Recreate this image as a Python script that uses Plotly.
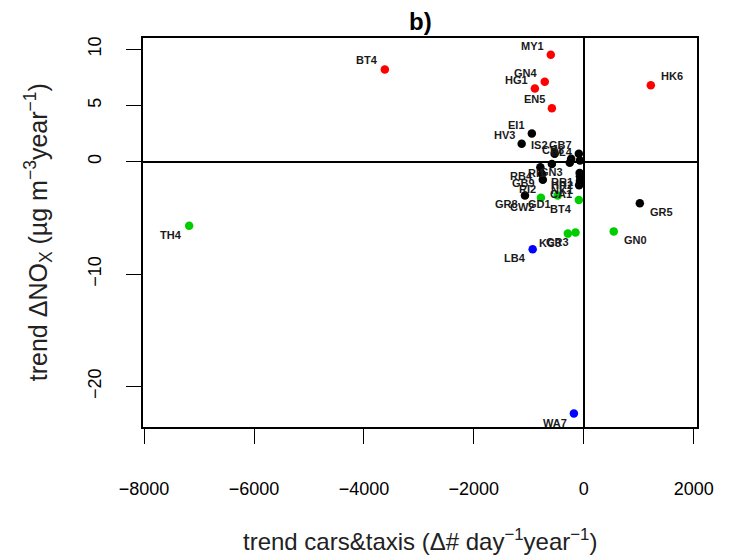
import plotly.graph_objects as go

# ---- data ----
red_names = ["MY1", "BT4", "GN4", "HG1", "EN5", "HK6"]
red_x = [-600, -3620, -710, -890, -580, 1220]
red_y = [9.5, 8.2, 7.1, 6.5, 4.75, 6.8]

black_names = ["EI1", "HV3", "IS2", "GB7", "CB8", "BL4", "RI1", "GN3", "RB4",
               "GB9", "RI2", "RR1", "HR2", "NK1", "CA1", "GR8", "GR5"]
black_x = [-945, -1130, -530, -90, -230, -70, -580, -255, -790,
           -760, -745, -75, -70, -70, -85, -1070, 1020]
black_y = [2.5, 1.6, 0.7, 0.7, 0.25, 0.1, -0.2, -0.1, -0.5,
           -1.1, -1.6, -1.0, -1.3, -1.7, -2.1, -3.0, -3.7]

green_names = ["TH4", "GN0", "KC3", "GR3", "CW2", "GD1", "BT4"]
green_x = [-7180, 545, -290, -150, -780, -475, -90]
green_y = [-5.7, -6.2, -6.4, -6.3, -3.2, -3.0, -3.4]

blue_names = ["LB4", "WA7"]
blue_x = [-930, -180]
blue_y = [-7.8, -22.4]

x_ticks = [-8000, -6000, -4000, -2000, 0, 2000]
y_ticks = [-20, -10, 0, 5, 10]

groups = [
    (red_names, red_x, red_y, "#ff0000"),
    (black_names, black_x, black_y, "#000000"),
    (green_names, green_x, green_y, "#00cd00"),
    (blue_names, blue_x, blue_y, "#0000ff"),
]

fig = go.Figure()
annotations = []
for names, xs, ys, col in groups:
    fig.add_trace(go.Scatter(
        x=xs, y=ys, mode="markers",
        marker=dict(color=col, size=8.5, line=dict(width=0)),
        showlegend=False, hoverinfo="text", text=names,
    ))
    for n, xv, yv in zip(names, xs, ys):
        right = xv > 0
        annotations.append(dict(
            x=xv, y=yv, xref="x", yref="y", text="<b>" + n + "</b>",
            showarrow=False,
            xanchor="left" if right else "right",
            yanchor="middle",
            xshift=8 if right else -5,
            yshift=9 if yv > 0 else -9,
            font=dict(family="Liberation Sans, Arial", size=11, color="#1a1a1a"),
        ))

# title and axis titles
annotations.append(dict(
    x=0.5, y=1.0, xref="paper", yref="paper", yanchor="bottom", yshift=1,
    text="<b>b)</b>", showarrow=False,
    font=dict(family="Liberation Sans, Arial", size=24, color="black"),
))
annotations.append(dict(
    x=0.5, y=-0.29, xref="paper", yref="paper", yanchor="middle",
    text="trend cars&taxis (Δ# day<sup>−1</sup>year<sup>−1</sup>)", showarrow=False,
    font=dict(family="Liberation Sans, Arial", size=24, color="#222"),
))
annotations.append(dict(
    x=-0.19, y=0.5, xref="paper", yref="paper", xanchor="center", yanchor="middle",
    textangle=-90,
    text="trend ΔNO<sub>X</sub> (µg m<sup>−3</sup>year<sup>−1</sup>)", showarrow=False,
    font=dict(family="Liberation Sans, Arial", size=25, color="#222"),
))

fig.update_layout(
    width=734, height=558,
    margin=dict(l=143, r=37, t=38, b=131),
    paper_bgcolor="white", plot_bgcolor="white",
    annotations=annotations,
    font=dict(family="Liberation Sans, Arial", color="black"),
)
fig.update_xaxes(
    range=[-8020, 2060], tickvals=x_ticks,
    ticktext=[("−" + str(abs(v))) if v < 0 else str(v) for v in x_ticks],
    ticks="outside", ticklen=15, tickwidth=1.3, tickcolor="black",
    ticklabelstandoff=30,
    tickfont=dict(size=18, color="black"),
    showline=True, linecolor="black", linewidth=1.5, mirror=True,
    showgrid=False, zeroline=True, zerolinecolor="black", zerolinewidth=1.5,
)
fig.update_yaxes(
    range=[-23.6, 11.0], tickvals=y_ticks,
    ticktext=[("−" + str(abs(v))) if v < 0 else str(v) for v in y_ticks],
    ticks="outside", ticklen=15, tickwidth=1.3, tickcolor="black",
    tickangle=-90, ticklabelstandoff=18,
    tickfont=dict(size=18, color="black"),
    showline=True, linecolor="black", linewidth=1.5, mirror=True,
    showgrid=False, zeroline=True, zerolinecolor="black", zerolinewidth=1.5,
)

fig.write_html("out.html")
